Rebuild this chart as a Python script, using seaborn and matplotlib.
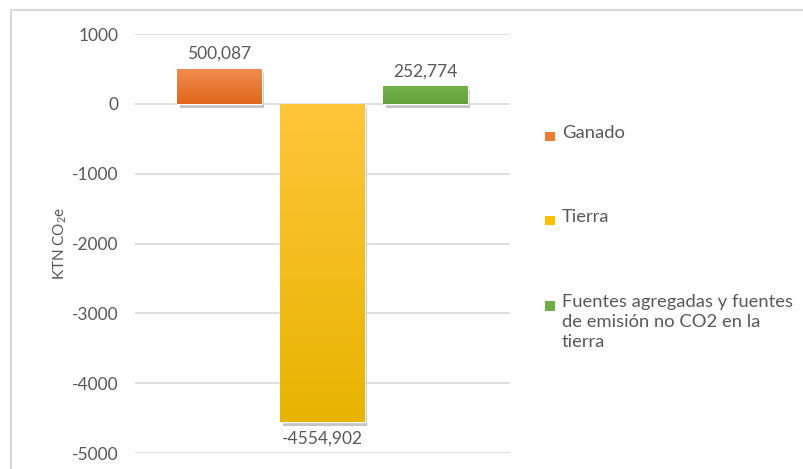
import numpy as np
import pandas as pd
import seaborn as sns
import matplotlib.pyplot as plt
import matplotlib.patheffects as pe
from matplotlib.colors import LinearSegmentedColormap
from matplotlib.patches import Rectangle

# data
series = ["Ganado", "Tierra", "Fuentes agregadas y fuentes\nde emisión no CO2 en la\ntierra"]
values = [500.087, -4554.902, 252.774]
base_colors = ["#ED7D31", "#FFC000", "#70AD47"]
top_colors = ["#F08C4E", "#FFC63A", "#74B34A"]
bottom_colors = ["#E0661A", "#E8B400", "#62A03A"]
yticks = [1000, 0, -1000, -2000, -3000, -4000, -5000]

TEXT = "#595959"

sns.set_theme(style="white")
plt.rcParams["font.family"] = ["Lato", "DejaVu Sans"]
plt.rcParams["mathtext.default"] = "regular"
plt.rcParams["axes.unicode_minus"] = False

df = pd.DataFrame({"grupo": [""] * len(series), "serie": series, "valor": values})

fig = plt.figure(figsize=(8.04, 4.69), dpi=100)
ax = fig.add_axes([0.168, 0.0341, 0.466, 0.8934])

sns.barplot(data=df, x="grupo", y="valor", hue="serie", palette=base_colors,
            width=0.824, gap=0.18, legend=False, ax=ax, saturation=1)

ax.set_ylim(-5000, 1000)
ax.set_xlim(-0.5, 0.5)
ax.set_yticks(yticks)
ax.yaxis.grid(True, color="#D9D9D9", linewidth=1.2)
ax.set_axisbelow(True)
for s in ax.spines.values():
    s.set_visible(False)
ax.tick_params(axis="y", length=0, pad=12, labelsize=12.5, labelcolor=TEXT)
ax.tick_params(axis="x", length=0, labelbottom=False)
ax.set_xlabel("")
ax.set_ylabel("KTN CO$_2$e", fontsize=11, color=TEXT, labelpad=2)

# gradient fill + soft shadow on bars
for patch, tc, bc, v in zip(ax.patches, top_colors, bottom_colors, values):
    patch.set_path_effects([pe.SimplePatchShadow(offset=(2, -3), shadow_rgbFace="#7f7f7f", alpha=0.45),
                            pe.Normal()])
    x0, y0 = patch.get_x(), patch.get_y()
    w, h = patch.get_width(), patch.get_height()
    cmap = LinearSegmentedColormap.from_list("g", [bc, tc])
    grad = np.linspace(0, 1, 64).reshape(-1, 1)
    ylo, yhi = min(y0, y0 + h), max(y0, y0 + h)
    im = ax.imshow(grad, cmap=cmap, aspect="auto", origin="lower",
                   extent=(x0, x0 + w, ylo, yhi), zorder=patch.get_zorder() + 0.1)
    im.set_clip_path(patch)
    cx = x0 + w / 2
    label = f"{v:.3f}".replace(".", ",")
    if v >= 0:
        ax.annotate(label, (cx, v), xytext=(0, 5), textcoords="offset points",
                    ha="center", va="bottom", fontsize=12.5, color=TEXT)
    else:
        ax.annotate(label, (cx, v), xytext=(0, -6), textcoords="offset points",
                    ha="center", va="top", fontsize=12.5, color=TEXT)

ax.set_xlim(-0.5, 0.5)
ax.set_ylim(-5000, 1000)

# legend on the right
leg_y = [137, 221, 306]
for lab, col, yy in zip(series, base_colors, leg_y):
    yf = 1 - yy / 469
    fig.patches.append(Rectangle((545 / 804, yf - 4.5 / 469), 9.5 / 804, 9.5 / 469,
                                 transform=fig.transFigure, facecolor=col, edgecolor="none"))
    fig.text(562 / 804, yf + 11.5 / 469, lab, ha="left", va="top", fontsize=13.2,
             color=TEXT, linespacing=1.27)

# outer chart border
fig.patches.append(Rectangle((11 / 804, -0.1), 1.2, 1 - 10 / 469 + 0.1, transform=fig.transFigure,
                             fill=False, edgecolor="#D9D9D9", linewidth=1.5))

fig.savefig("out.png", dpi=100)
